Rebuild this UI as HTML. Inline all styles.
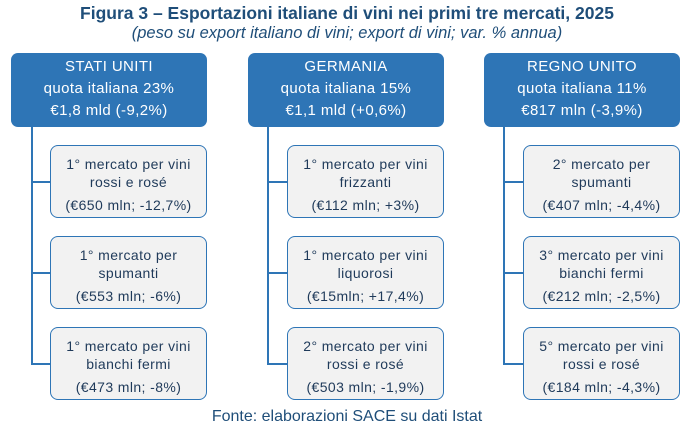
<!DOCTYPE html>
<html><head><meta charset="utf-8"><style>
body{margin:0;width:694px;height:435px;background:#fff;position:relative;font-family:"Liberation Sans",sans-serif;overflow:hidden}
.t{position:absolute;left:0;width:694px;text-align:center;color:#1f4e79}
.h{position:absolute;background:#2e75b6;border-radius:7px;color:#fff;text-align:center;font-size:15px;line-height:22px;padding-top:3px;box-sizing:border-box;letter-spacing:0.4px}
.c{position:absolute;background:#f2f2f2;border:1.5px solid #2e75b6;border-radius:8px;color:#1f3a5a;text-align:center;font-size:14px;box-sizing:border-box;padding-top:9px;line-height:18px;letter-spacing:0.4px}
.c .l3{margin-top:5px}
.v{position:absolute;width:1.5px;background:#2e75b6}
.hz{position:absolute;height:1.5px;background:#2e75b6}
</style></head><body>
<div class="t" style="top:3px;font-weight:bold;font-size:17.5px">Figura 3 – Esportazioni italiane di vini nei primi tre mercati, 2025</div>
<div class="t" style="top:24px;font-style:italic;font-size:16.5px">(peso su export italiano di vini; export di vini; var. % annua)</div>

<div class="v" style="left:31px;top:126px;height:238px"></div>
<div class="hz" style="left:31px;top:181px;width:20px"></div>
<div class="hz" style="left:31px;top:272px;width:20px"></div>
<div class="hz" style="left:31px;top:363px;width:20px"></div>
<div class="v" style="left:267px;top:126px;height:238px"></div>
<div class="hz" style="left:267px;top:181px;width:20px"></div>
<div class="hz" style="left:267px;top:272px;width:20px"></div>
<div class="hz" style="left:267px;top:363px;width:20px"></div>
<div class="v" style="left:503px;top:126px;height:238px"></div>
<div class="hz" style="left:503px;top:181px;width:20px"></div>
<div class="hz" style="left:503px;top:272px;width:20px"></div>
<div class="hz" style="left:503px;top:363px;width:20px"></div>

<div class="h" style="left:11px;top:53px;width:196px;height:74px">STATI UNITI<br>quota italiana 23%<br>€1,8 mld (-9,2%)</div>
<div class="h" style="left:248px;top:53px;width:196px;height:74px">GERMANIA<br>quota italiana 15%<br>€1,1 mld (+0,6%)</div>
<div class="h" style="left:484px;top:53px;width:196px;height:74px">REGNO UNITO<br>quota italiana 11%<br>€817 mln (-3,9%)</div>

<div class="c" style="left:50px;top:145px;width:157px;height:73px">1° mercato per vini<br>rossi e rosé<div class="l3">(€650 mln; -12,7%)</div></div>
<div class="c" style="left:50px;top:236px;width:157px;height:73px">1° mercato per<br>spumanti<div class="l3">(€553 mln; -6%)</div></div>
<div class="c" style="left:50px;top:327px;width:157px;height:73px">1° mercato per vini<br>bianchi fermi<div class="l3">(€473 mln; -8%)</div></div>

<div class="c" style="left:287px;top:145px;width:157px;height:73px">1° mercato per vini<br>frizzanti<div class="l3">(€112 mln; +3%)</div></div>
<div class="c" style="left:287px;top:236px;width:157px;height:73px">1° mercato per vini<br>liquorosi<div class="l3">(€15mln; +17,4%)</div></div>
<div class="c" style="left:287px;top:327px;width:157px;height:73px">2° mercato per vini<br>rossi e rosé<div class="l3">(€503 mln; -1,9%)</div></div>

<div class="c" style="left:523px;top:145px;width:157px;height:73px">2° mercato per<br>spumanti<div class="l3">(€407 mln; -4,4%)</div></div>
<div class="c" style="left:523px;top:236px;width:157px;height:73px">3° mercato per vini<br>bianchi fermi<div class="l3">(€212 mln; -2,5%)</div></div>
<div class="c" style="left:523px;top:327px;width:157px;height:73px">5° mercato per vini<br>rossi e rosé<div class="l3">(€184 mln; -4,3%)</div></div>

<div class="t" style="top:408px;font-size:16px">Fonte: elaborazioni SACE su dati Istat</div>
</body></html>
